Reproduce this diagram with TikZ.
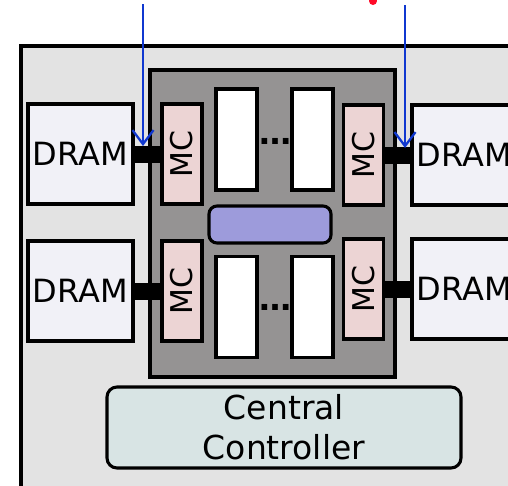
\documentclass[tikz,border=0pt]{standalone}
\usepackage{fontspec}
\setmainfont{DejaVu Sans}
\usetikzlibrary{arrows.meta}

\definecolor{boardgray}{HTML}{E3E3E3}
\definecolor{chipgray}{HTML}{959393}
\definecolor{dramfill}{HTML}{F1F1F7}
\definecolor{mcfill}{HTML}{ECD4D4}
\definecolor{nocblue}{HTML}{9D9BDB}
\definecolor{ctrlfill}{HTML}{D8E4E4}
\definecolor{probeblue}{HTML}{1038D0}
\definecolor{markred}{HTML}{FF0A28}

\begin{document}
\begin{tikzpicture}[x=1pt, y=-1pt,
	every node/.style={font=\fontsize{32}{40}\selectfont, inner sep=0pt},
	box/.style={draw, line width=3.1pt},
	dram/.style={box, fill=dramfill, minimum width=105pt, minimum height=100pt},
	mc/.style={box, fill=mcfill, minimum width=40pt, minimum height=100pt},
	core/.style={box, fill=white, minimum width=41pt, minimum height=101pt},
	bus/.style={line width=17pt},
	probe/.style={draw=probeblue, line width=2.3pt, -{Straight Barb[length=14pt,width=21pt]}}]
	\clip (0,0) rectangle (508,485);
	\draw[box, fill=boardgray] (21,46) rectangle (530,500);
	\node[box, fill=chipgray, minimum width=245pt, minimum height=307pt] (chip) at (272.5,223.5) {};
	
	\foreach \s/\dx/\mx/\r/\y in {L/80.5/182/1/154, L/80.5/182/2/291, R/464.5/363.5/1/155, R/464.5/363.5/2/289} {
		\node[dram] (dram\s\r) at (\dx,\y) {DRAM};
		\node[mc] (mc\s\r) at (\mx,\y) {};
		\node[rotate=90, font=\fontsize{30}{36}\selectfont] (mc\s\r-txt) at (mc\s\r) {MC};
	}
	\foreach \r in {1,2} {
		\draw[bus] (dramL\r.east) -- (mcL\r.west);
		\draw[bus] (mcR\r.east) -- (dramR\r.west);
	}
	
	\foreach \c/\cx in {a/236.5, b/312.5}
		\foreach \r/\cy in {1/139.5, 2/307}
			\node[core] (core\c\r) at (\cx,\cy) {};
	\node[anchor=base, font=\fontsize{32}{40}\selectfont\bfseries] (dots1) at (275,144) {\ldots};
	\node[anchor=base, font=\fontsize{32}{40}\selectfont\bfseries] (dots2) at (275,310) {\ldots};
	
	\node[box, fill=nocblue, rounded corners=8pt, minimum width=122pt, minimum height=37pt] (noc) at (270,224.5) {};
	\node[box, fill=ctrlfill, rounded corners=10pt, minimum width=354pt, minimum height=81pt, align=center, font=\fontsize{33}{40}\selectfont] (ctrl) at (284,427.5) {Central\\Controller};
	
	\coordinate (probeL) at (143,4);
	\coordinate (tapL) at (143,146);
	\coordinate (probeR) at (405,5);
	\coordinate (tapR) at (405,148);
	\draw[probe] (probeL) -- (tapL);
	\draw[probe] (probeR) -- (tapR);
	\draw[markred, line width=8pt, line cap=round] (373,-6) -- (373,1);
\end{tikzpicture}
\end{document}
